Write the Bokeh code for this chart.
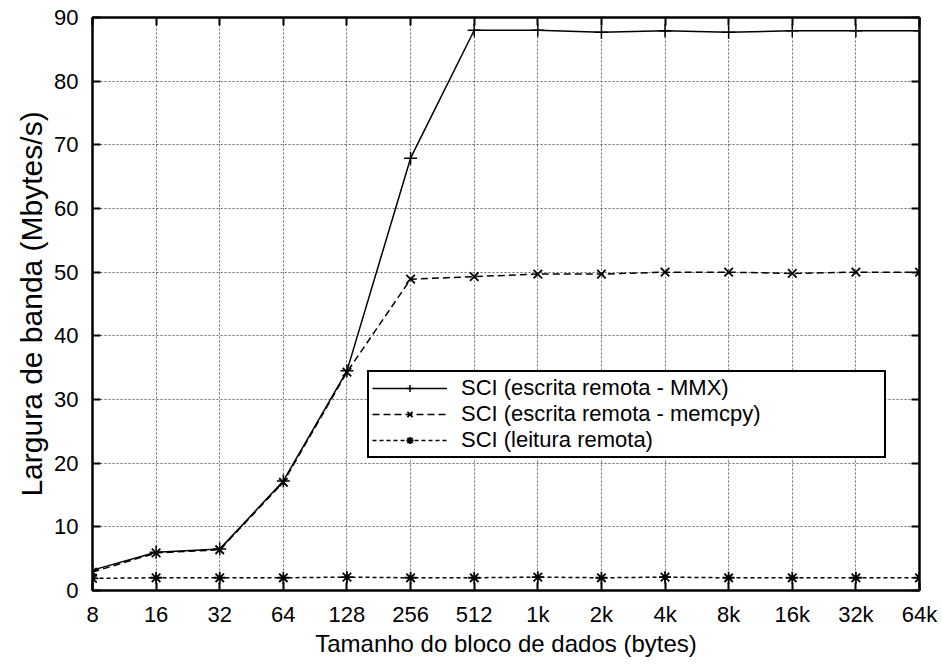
from bokeh.plotting import figure
from bokeh.models import Range1d, FixedTicker, LinearAxis, Legend, LegendItem
from bokeh.embed import file_html
from bokeh.resources import INLINE

sizes = [8, 16, 32, 64, 128, 256, 512, 1024, 2048, 4096, 8192, 16384, 32768, 65536]
size_labels = ["8", "16", "32", "64", "128", "256", "512", "1k", "2k", "4k", "8k", "16k", "32k", "64k"]
mmx = [3.2, 6.0, 6.5, 17.2, 34.5, 67.9, 88.0, 88.0, 87.7, 87.9, 87.7, 87.9, 87.9, 87.9]
memcpy = [2.9, 5.9, 6.4, 17.0, 34.3, 48.9, 49.3, 49.7, 49.7, 50.0, 50.0, 49.8, 50.0, 50.0]
leitura = [1.9, 2.0, 2.0, 2.0, 2.1, 2.0, 2.0, 2.1, 2.0, 2.1, 2.0, 2.0, 2.0, 2.0]
y_ticks = [0, 10, 20, 30, 40, 50, 60, 70, 80, 90]

names = ["SCI (escrita remota - MMX)", "SCI (escrita remota - memcpy)", "SCI (leitura remota)"]

FONT = "Liberation Sans"

p = figure(width=942, height=664, x_axis_type="log",
           x_range=Range1d(8, 65536), y_range=Range1d(0, 90),
           output_backend="svg", toolbar_location=None,
           min_border_left=92, min_border_right=23, min_border_top=17, min_border_bottom=74,
           background_fill_color="white", border_fill_color="white")

p.outline_line_color = "black"
p.outline_line_width = 2

for ax in (p.xaxis[0], p.yaxis[0]):
    ax.axis_line_width = 2
    ax.axis_line_color = "black"
    ax.major_tick_in = 8
    ax.major_tick_out = 0
    ax.major_tick_line_width = 2
    ax.minor_tick_line_color = None
    ax.major_label_text_font = FONT
    ax.major_label_text_font_size = "22px"
    ax.major_label_text_color = "black"
    ax.axis_label_text_font = FONT
    ax.axis_label_text_font_style = "normal"
    ax.axis_label_text_color = "black"

p.xaxis[0].ticker = FixedTicker(ticks=sizes)
p.xaxis[0].major_label_overrides = {s: l for s, l in zip(sizes, size_labels)}
p.xaxis[0].major_label_standoff = 11
p.xaxis[0].axis_label = "Tamanho do bloco de dados (bytes)"
p.xaxis[0].axis_label_text_font_size = "24px"
p.xaxis[0].axis_label_standoff = 0

p.yaxis[0].ticker = FixedTicker(ticks=y_ticks)
p.yaxis[0].major_label_standoff = 14
p.yaxis[0].axis_label = "Largura de banda (Mbytes/s)"
p.yaxis[0].axis_label_text_font_size = "30px"
p.yaxis[0].axis_label_standoff = 3

# mirrored ticks (top / right)
top = LinearAxis(ticker=FixedTicker(ticks=sizes),
                 major_label_overrides={s: "" for s in sizes})
right = LinearAxis(ticker=FixedTicker(ticks=y_ticks),
                   major_label_overrides={t: "" for t in y_ticks})
for ax in (top, right):
    ax.axis_line_width = 2
    ax.major_tick_in = 8
    ax.major_tick_out = 0
    ax.major_tick_line_width = 2
    ax.minor_tick_line_color = None
    ax.major_label_standoff = 0
p.add_layout(top, "above")
p.add_layout(right, "right")

p.xgrid.ticker = FixedTicker(ticks=sizes)
p.ygrid.ticker = FixedTicker(ticks=y_ticks)
for g in (p.xgrid, p.ygrid):
    g.grid_line_color = "#666666"
    g.grid_line_dash = "2 2"
    g.grid_line_width = 1

l1 = p.line(sizes, mmx, line_color="black", line_width=1.5)
s1 = p.scatter(sizes, mmx, marker="cross", size=13, line_color="black", line_width=1.5)
l2 = p.line(sizes, memcpy, line_color="black", line_width=1.5, line_dash="7 4")
s2 = p.scatter(sizes, memcpy, marker="x", size=12, line_color="black", line_width=1.8)
l3 = p.line(sizes, leitura, line_color="black", line_width=1.5, line_dash="4 3")
s3 = p.scatter(sizes, leitura, marker="asterisk", size=12, line_color="black", line_width=1.8)

legend = Legend(items=[LegendItem(label=names[0], renderers=[l1, s1]),
                       LegendItem(label=names[1], renderers=[l2, s2]),
                       LegendItem(label=names[2], renderers=[l3, s3])],
                location=(275, 132))
legend.border_line_color = "black"
legend.border_line_width = 2
legend.border_line_alpha = 1.0
legend.background_fill_color = "white"
legend.background_fill_alpha = 1
legend.label_text_font = FONT
legend.label_text_font_size = "22px"
legend.label_text_line_height = 0.95
legend.label_text_color = "black"
legend.glyph_width = 75
legend.glyph_height = 18
legend.label_standoff = 14
legend.label_width = 420
legend.label_height = 18
legend.spacing = 0
legend.padding = 3
legend.margin = 0
p.add_layout(legend)

open("out.html", "w").write(file_html(p, INLINE))
